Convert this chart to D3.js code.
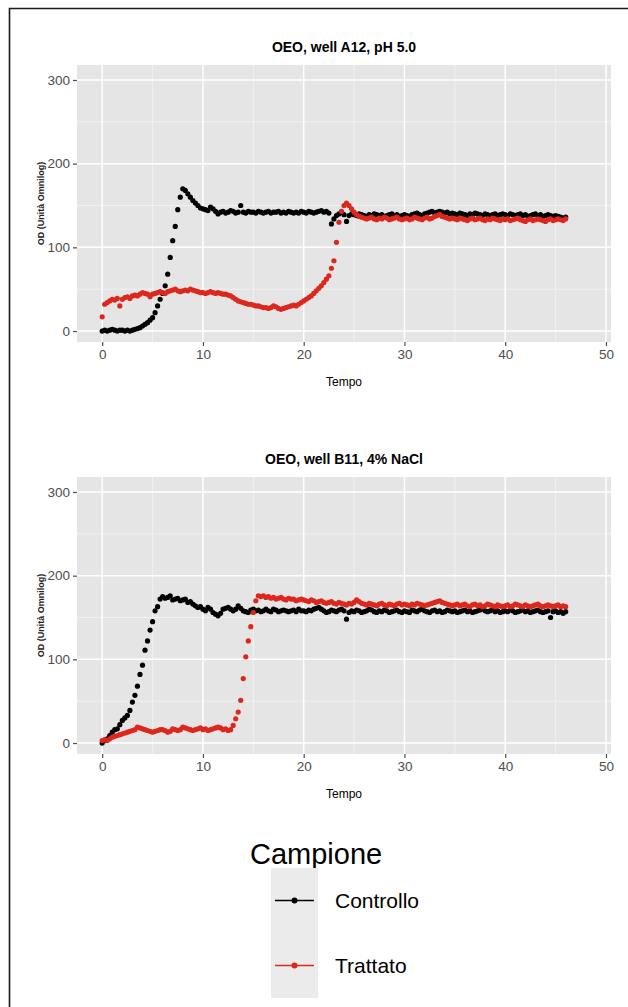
<!DOCTYPE html>
<html>
<head>
<meta charset="utf-8">
<script src="https://cdn.jsdelivr.net/npm/d3@7"></script>
<style>
  body { margin: 0; background: #fff; }
  svg { display: block; font-family: "Liberation Sans", Arial, sans-serif; }
  .tick text { fill: #4d4d4d; font-size: 13.5px; }
</style>
</head>
<body>
<div id="chart"></div>
<script>
const W = 628, H = 1007;

// sampling every 15 min (0.25 h), t = 0 .. 46
const timeStep = 0.25;
const xTicks = [0, 10, 20, 30, 40, 50];
const yTicks = [0, 100, 200, 300];
const panelTitles = ["OEO, well A12, pH 5.0", "OEO, well B11, 4% NaCl"];
const seriesNames = ["Controllo", "Trattato"];
const seriesColors = ["#000000", "#de271c"];

// well A12, pH 5.0
const ctrlA = [
  0,1,0,1,2,1,0,1,1,0,1,0,1,2,3,4,6,8,10,13,
  16,22,30,38,45,54,68,88,108,125,145,160,170,168,164,160,156,153,150,147,
  146,145,144,148,146,143,140,142,143,141,142,144,143,141,142,150,142,141,143,142,
  142,141,143,142,141,142,143,141,142,142,143,141,142,141,143,142,141,142,141,143,
  142,141,143,142,141,142,143,144,142,143,141,128,134,138,140,142,139,131,138,140,
  139,138,140,139,138,137,139,138,140,139,138,139,137,138,139,140,138,139,137,138,
  139,138,137,139,140,141,139,138,140,141,142,143,141,142,143,142,141,142,140,141,
  140,139,141,140,139,138,140,139,141,140,139,138,140,139,138,139,140,138,139,140,
  139,138,140,139,138,139,140,138,139,137,138,139,140,138,139,137,138,139,138,137,
  138,137,136,135,136
];
const treatA = [
  17,32,34,36,38,37,39,30,38,40,41,39,42,43,42,44,46,45,44,41,
  44,45,46,47,46,45,47,48,49,50,48,47,48,49,48,50,49,48,47,46,
  46,45,46,47,46,45,46,45,44,44,43,42,40,38,36,35,34,33,32,32,
  31,30,30,29,28,28,27,28,30,29,27,26,27,28,29,30,31,30,32,34,
  36,38,40,42,45,48,51,54,58,62,66,75,84,106,130,143,150,153,150,146,
  142,139,137,136,135,134,135,136,134,133,135,134,136,135,133,134,135,136,134,133,
  134,135,133,134,136,135,134,133,135,136,134,135,137,138,139,137,136,135,134,135,
  134,133,135,134,133,132,134,135,133,134,135,133,132,134,133,135,134,133,132,134,
  133,134,132,133,134,135,133,132,131,133,134,132,133,134,133,132,131,133,134,132,
  133,134,133,132,134
];

// well B11, 4% NaCl
const ctrlB = [
  0,3,5,9,13,16,17,22,27,30,33,39,49,57,68,82,93,111,122,135,
  145,158,163,172,175,173,174,176,171,172,173,170,171,172,168,169,166,164,162,163,
  160,158,162,160,156,154,152,155,160,161,162,160,158,160,164,161,158,157,156,159,
  160,158,159,157,158,160,158,157,160,159,157,158,159,158,157,158,159,157,160,158,
  158,157,159,158,160,161,162,160,158,156,157,159,158,157,159,160,158,148,156,158,
  157,159,158,156,157,158,160,159,157,156,158,157,159,158,156,157,158,159,157,156,
  158,157,156,159,158,157,159,160,158,157,156,158,159,157,158,156,157,159,158,157,
  158,156,157,158,159,157,158,156,157,158,159,160,158,157,158,159,157,158,156,157,
  158,157,159,158,156,157,158,159,157,158,156,157,158,159,157,156,157,158,150,157,
  158,156,157,155,157
];
const treatB = [
  3,4,3,5,7,8,9,10,11,12,13,14,15,16,19,18,17,16,15,14,
  13,14,15,16,16,15,13,14,17,16,15,16,19,18,17,16,15,16,17,18,
  16,17,15,16,17,18,19,18,16,17,15,16,21,29,37,51,77,103,122,139,
  156,170,176,175,176,174,175,173,174,172,173,174,172,171,173,172,172,170,171,172,
  171,170,169,171,170,168,169,170,168,167,168,169,167,166,168,167,166,165,167,166,
  168,171,169,167,166,165,167,166,165,164,166,167,165,164,166,165,164,166,167,165,
  166,165,164,166,165,167,166,165,164,165,166,167,168,169,170,168,167,166,165,164,
  165,166,164,165,166,164,163,165,166,164,165,163,164,166,165,164,163,165,164,163,
  164,165,163,164,166,165,164,163,165,164,163,164,165,166,164,163,164,165,164,163,
  164,165,163,164,163
];

const panels = [
  { title: panelTitles[0], series: [ctrlA, treatA], top: 65 },
  { title: panelTitles[1], series: [ctrlB, treatB], top: 477 }
];

const svg = d3.select("#chart").append("svg")
  .attr("width", W).attr("height", H);

svg.append("rect").attr("width", W).attr("height", H).attr("fill", "#fff");

// frame (top and left edges visible in the scan)
svg.append("path")
  .attr("d", `M9.5,${H} V8.5 H${W}`)
  .attr("fill", "none")
  .attr("stroke", "#1a1a1a")
  .attr("stroke-width", 1.6);

const panelLeft = 77, panelRight = 611, panelH = 277;

panels.forEach(p => {
  const g = svg.append("g");
  const x = d3.scaleLinear().domain([-2.5, 50.5]).range([panelLeft, panelRight]);
  const y = d3.scaleLinear().domain([-13.1, 317.9]).range([p.top + panelH, p.top]);

  g.append("rect")
    .attr("x", panelLeft).attr("y", p.top)
    .attr("width", panelRight - panelLeft).attr("height", panelH)
    .attr("fill", "#e5e5e5");

  // minor grid
  const xMinor = d3.range(5, 50, 10), yMinor = [50, 150, 250];
  g.selectAll(".xminor").data(xMinor).join("line")
    .attr("x1", d => x(d)).attr("x2", d => x(d))
    .attr("y1", p.top).attr("y2", p.top + panelH)
    .attr("stroke", "#f4f4f4").attr("stroke-width", 0.8);
  g.selectAll(".yminor").data(yMinor).join("line")
    .attr("y1", d => y(d)).attr("y2", d => y(d))
    .attr("x1", panelLeft).attr("x2", panelRight)
    .attr("stroke", "#f4f4f4").attr("stroke-width", 0.8);
  // major grid
  g.selectAll(".xmajor").data(xTicks).join("line")
    .attr("x1", d => x(d)).attr("x2", d => x(d))
    .attr("y1", p.top).attr("y2", p.top + panelH)
    .attr("stroke", "#fff").attr("stroke-width", 1.5);
  g.selectAll(".ymajor").data(yTicks).join("line")
    .attr("y1", d => y(d)).attr("y2", d => y(d))
    .attr("x1", panelLeft).attr("x2", panelRight)
    .attr("stroke", "#fff").attr("stroke-width", 1.5);

  // axes
  const xAxis = g.append("g")
    .attr("transform", `translate(0,${p.top + panelH})`)
    .call(d3.axisBottom(x).tickValues(xTicks).tickSize(4).tickPadding(3));
  const yAxis = g.append("g")
    .attr("transform", `translate(${panelLeft},0)`)
    .call(d3.axisLeft(y).tickValues(yTicks).tickSize(4).tickPadding(3));
  [xAxis, yAxis].forEach(a => {
    a.select(".domain").remove();
    a.selectAll(".tick line").attr("stroke", "#4d4d4d").attr("stroke-width", 1.2);
  });

  // data points
  p.series.forEach((vals, si) => {
    const pts = vals.map((v, i) => [i * timeStep, v]);
    g.append("g").selectAll("circle").data(pts).join("circle")
      .attr("cx", d => x(d[0])).attr("cy", d => y(d[1]))
      .attr("r", 2.6)
      .attr("fill", seriesColors[si]);
  });

  // titles
  g.append("text")
    .attr("x", (panelLeft + panelRight) / 2).attr("y", p.top - 13)
    .attr("text-anchor", "middle")
    .attr("font-weight", "bold").attr("font-size", 14)
    .text(p.title);
  g.append("text")
    .attr("x", (panelLeft + panelRight) / 2).attr("y", p.top + panelH + 44)
    .attr("text-anchor", "middle")
    .attr("font-size", 12)
    .text("Tempo");
  g.append("text")
    .attr("transform", `translate(44,${p.top + panelH / 2}) rotate(-90)`)
    .attr("text-anchor", "middle")
    .attr("font-weight", "bold").attr("font-size", 9)
    .attr("fill", "#222")
    .text("OD (Unità Omnilog)");
});

// legend
const leg = svg.append("g");
leg.append("text")
  .attr("x", 250).attr("y", 864)
  .attr("font-size", 29)
  .text("Campione");
const keyX = 271, keyW = 47, keyTop = 868, keyH = 65;
seriesNames.forEach((name, i) => {
  const cy = keyTop + keyH * i + keyH / 2;
  leg.append("rect")
    .attr("x", keyX).attr("y", keyTop + keyH * i)
    .attr("width", keyW).attr("height", keyH)
    .attr("fill", "#ebebeb");
  leg.append("line")
    .attr("x1", keyX + 4).attr("x2", keyX + keyW - 4)
    .attr("y1", cy).attr("y2", cy)
    .attr("stroke", seriesColors[i]).attr("stroke-width", 1.5);
  leg.append("circle")
    .attr("cx", keyX + keyW / 2).attr("cy", cy).attr("r", 3)
    .attr("fill", seriesColors[i]);
  leg.append("text")
    .attr("x", 335).attr("y", cy + 7)
    .attr("font-size", 21)
    .text(name);
});
</script>
</body>
</html>
